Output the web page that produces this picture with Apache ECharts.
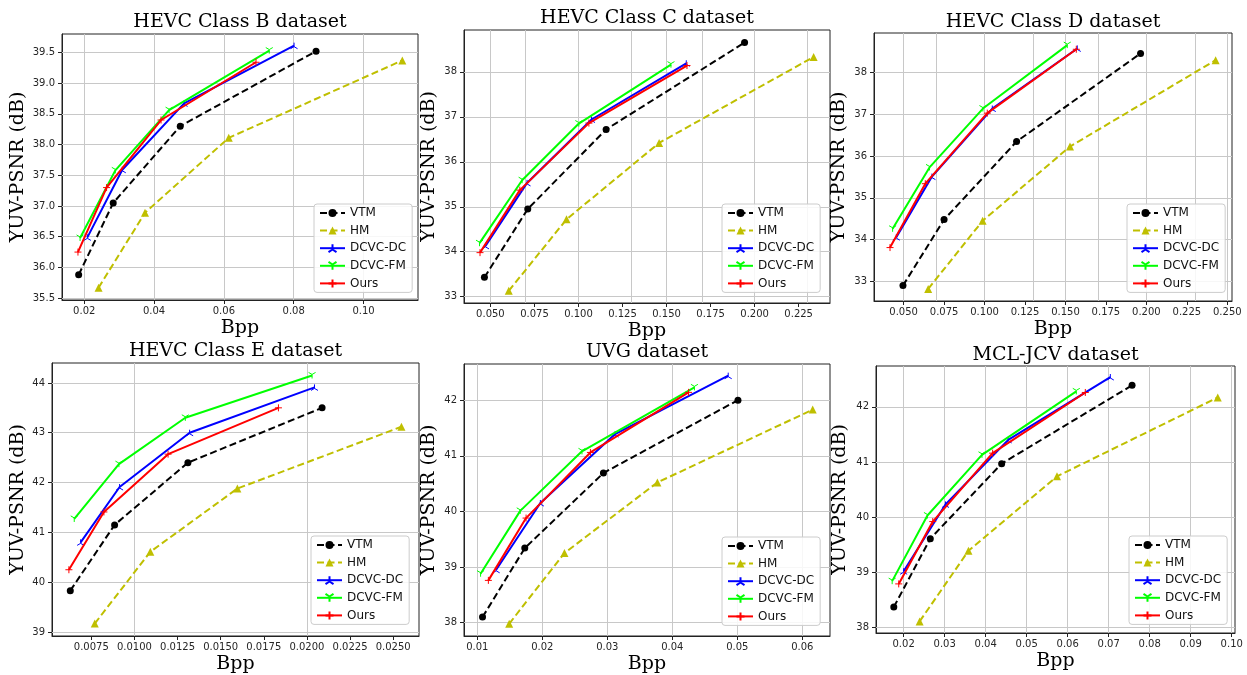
<!DOCTYPE html>
<html>
<head>
<meta charset="utf-8">
<title>RD curves</title>
<script src="https://cdn.jsdelivr.net/npm/echarts@6/dist/echarts.min.js"></script>
<style>
html, body { margin: 0; padding: 0; background: #fff; }
#main { width: 1247px; height: 675px; }
</style>
</head>
<body>
<div id="main"></div>
<script>
// values, each point is [bpp, psnr]
var methods = ['VTM', 'HM', 'DCVC-DC', 'DCVC-FM', 'Ours'];

var classB_VTM  = [[0.0184, 35.88], [0.0283, 37.05], [0.0475, 38.30], [0.0864, 39.52]];
var classB_HM   = [[0.0241, 35.67], [0.0374, 36.89], [0.0614, 38.11], [0.1111, 39.37]];
var classB_DC   = [[0.0209, 36.49], [0.0309, 37.59], [0.0486, 38.67], [0.0801, 39.61]];
var classB_FM   = [[0.0188, 36.48], [0.0289, 37.58], [0.0443, 38.56], [0.0730, 39.53]];
var classB_Ours = [[0.0182, 36.25], [0.0264, 37.30], [0.0420, 38.40], [0.0692, 39.34]];

var classC_VTM  = [[0.0466, 33.43], [0.0712, 34.95], [0.1157, 36.72], [0.1943, 38.65]];
var classC_HM   = [[0.0604, 33.13], [0.0932, 34.72], [0.1458, 36.42], [0.2335, 38.33]];
var classC_DC   = [[0.0472, 34.13], [0.0708, 35.53], [0.1074, 36.94], [0.1612, 38.19]];
var classC_FM   = [[0.0438, 34.19], [0.0680, 35.59], [0.1002, 36.85], [0.1525, 38.16]];
var classC_Ours = [[0.0441, 33.98], [0.0667, 35.37], [0.1059, 36.86], [0.1616, 38.14]];

var classD_VTM  = [[0.0496, 32.90], [0.0750, 34.48], [0.1198, 36.35], [0.1964, 38.46]];
var classD_HM   = [[0.0652, 32.82], [0.0988, 34.45], [0.1528, 36.23], [0.2428, 38.30]];
var classD_DC   = [[0.0455, 34.06], [0.0675, 35.51], [0.1048, 37.14], [0.1573, 38.58]];
var classD_FM   = [[0.0432, 34.26], [0.0660, 35.73], [0.0990, 37.14], [0.1511, 38.66]];
var classD_Ours = [[0.0416, 33.81], [0.0634, 35.34], [0.1017, 37.03], [0.1567, 38.56]];

var classE_VTM  = [[0.00628, 39.83], [0.00885, 41.15], [0.0131, 42.40], [0.02088, 43.50]];
var classE_HM   = [[0.0077, 39.17], [0.01092, 40.61], [0.01597, 41.88], [0.02548, 43.12]];
var classE_DC   = [[0.00688, 40.80], [0.00914, 41.91], [0.0132, 43.00], [0.02044, 43.91]];
var classE_FM   = [[0.00651, 41.27], [0.0091, 42.37], [0.01295, 43.30], [0.0203, 44.15]];
var classE_Ours = [[0.0062, 40.25], [0.00823, 41.41], [0.01195, 42.57], [0.01835, 43.50]];

var uvg_VTM  = [[0.0108, 38.10], [0.0173, 39.34], [0.0294, 40.69], [0.0501, 42.00]];
var uvg_HM   = [[0.0149, 37.98], [0.0234, 39.25], [0.0377, 40.52], [0.0616, 41.83]];
var uvg_DC   = [[0.0129, 38.95], [0.0197, 40.15], [0.0312, 41.39], [0.0486, 42.44]];
var uvg_FM   = [[0.0105, 38.88], [0.0166, 40.01], [0.0261, 41.08], [0.0434, 42.23]];
var uvg_Ours = [[0.0117, 38.76], [0.0175, 39.88], [0.0274, 41.06], [0.0425, 42.14]];

var mcl_VTM  = [[0.0176, 38.37], [0.0265, 39.61], [0.0439, 40.97], [0.0757, 42.39]];
var mcl_HM   = [[0.0239, 38.11], [0.0358, 39.39], [0.0574, 40.74], [0.0966, 42.17]];
var mcl_DC   = [[0.0200, 39.02], [0.0302, 40.23], [0.0455, 41.40], [0.0704, 42.54]];
var mcl_FM   = [[0.0172, 38.84], [0.0258, 40.03], [0.0391, 41.13], [0.0621, 42.28]];
var mcl_Ours = [[0.0188, 38.79], [0.0271, 39.92], [0.0417, 41.16], [0.0643, 42.26]];

// tick labels
var classB_xTicks = [0.02, 0.04, 0.06, 0.08, 0.10];
var classB_yTicks = [35.5, 36.0, 36.5, 37.0, 37.5, 38.0, 38.5, 39.0, 39.5];
var classC_xTicks = [0.050, 0.075, 0.100, 0.125, 0.150, 0.175, 0.200, 0.225];
var classC_yTicks = [33, 34, 35, 36, 37, 38];
var classD_xTicks = [0.050, 0.075, 0.100, 0.125, 0.150, 0.175, 0.200, 0.225, 0.250];
var classD_yTicks = [33, 34, 35, 36, 37, 38];
var classE_xTicks = [0.0075, 0.0100, 0.0125, 0.0150, 0.0175, 0.0200, 0.0225, 0.0250];
var classE_yTicks = [39, 40, 41, 42, 43, 44];
var uvg_xTicks = [0.01, 0.02, 0.03, 0.04, 0.05, 0.06];
var uvg_yTicks = [38, 39, 40, 41, 42];
var mcl_xTicks = [0.02, 0.03, 0.04, 0.05, 0.06, 0.07, 0.08, 0.09, 0.10];
var mcl_yTicks = [38, 39, 40, 41, 42];

// panel layout (pixels) and axis ranges
var panels = [
	{ title: 'HEVC Class B dataset', grid: [62, 34, 356, 266], x: [0.01363, 0.1156], y: [35.47, 39.80],
	  xTicks: classB_xTicks, yTicks: classB_yTicks, xDec: 2, yDec: 1, titleTop: 13, legend: [314, 204], yGap: 34,
	  data: [classB_VTM, classB_HM, classB_DC, classB_FM, classB_Ours] },
	{ title: 'HEVC Class C dataset', grid: [464, 30, 366, 273], x: [0.0350, 0.2428], y: [32.86, 38.93],
	  xTicks: classC_xTicks, yTicks: classC_yTicks, xDec: 3, yDec: 0, titleTop: 9, legend: [722, 204], yGap: 25,
	  data: [classC_VTM, classC_HM, classC_DC, classC_FM, classC_Ours] },
	{ title: 'HEVC Class D dataset', grid: [874, 33, 358, 268], x: [0.0317, 0.2529], y: [32.53, 38.95],
	  xTicks: classD_xTicks, yTicks: classD_yTicks, xDec: 3, yDec: 0, titleTop: 13, legend: [1127, 204], yGap: 25,
	  data: [classD_VTM, classD_HM, classD_DC, classD_FM, classD_Ours] },
	{ title: 'HEVC Class E dataset', grid: [52, 363, 367, 273], x: [0.00522, 0.0265], y: [38.92, 44.40],
	  xTicks: classE_xTicks, yTicks: classE_yTicks, xDec: 4, yDec: 0, titleTop: 342, legend: [311, 536], yGap: 24,
	  data: [classE_VTM, classE_HM, classE_DC, classE_FM, classE_Ours] },
	{ title: 'UVG dataset', grid: [464, 364, 366, 272], x: [0.00795, 0.06426], y: [37.76, 42.65],
	  xTicks: uvg_xTicks, yTicks: uvg_yTicks, xDec: 2, yDec: 0, titleTop: 343, legend: [722, 537], yGap: 25,
	  data: [uvg_VTM, uvg_HM, uvg_DC, uvg_FM, uvg_Ours] },
	{ title: 'MCL-JCV dataset', grid: [876, 366, 359, 267], x: [0.01326, 0.1008], y: [37.90, 42.74],
	  xTicks: mcl_xTicks, yTicks: mcl_yTicks, xDec: 2, yDec: 0, titleTop: 346, legend: [1129, 536], yGap: 26,
	  data: [mcl_VTM, mcl_HM, mcl_DC, mcl_FM, mcl_Ours] }
];

// matplotlib-like markers: tri_up, tri_down, plus
var triUp = 'path://M0,0 L0,-10 M0,0 L-8.66,5 M0,0 L8.66,5';
var triDown = 'path://M0,0 L0,10 M0,0 L-8.66,-5 M0,0 L8.66,-5';
var plus = 'path://M0,-5 L0,5 M-5,0 L5,0';

var methodStyle = [
	{ color: '#000000', dash: [7, 3.5], symbol: 'circle', size: 7, border: 0 },
	{ color: '#bfbf00', dash: [7, 3.5], symbol: 'triangle', size: 8, border: 0 },
	{ color: '#0000ff', dash: 'solid', symbol: triUp, size: 7, border: 1 },
	{ color: '#00ff00', dash: 'solid', symbol: triDown, size: 7, border: 1 },
	{ color: '#ff0000', dash: 'solid', symbol: plus, size: 7, border: 1 }
];

var tickColor = '#262626';
var gridLineColor = '#c8c8c8';
var option = {
	backgroundColor: '#ffffff',
	animation: false,
	title: [], grid: [], xAxis: [], yAxis: [], legend: [], series: []
};

function fixed(d) {
	return function (v) { return v.toFixed(d); };
}

panels.forEach(function (p, i) {
	var g = p.grid;
	option.title.push({
		text: p.title, left: g[0] + g[2] / 2, top: p.titleTop, textAlign: 'center', padding: 0,
		textStyle: { fontFamily: 'DejaVu Serif', fontSize: 19, fontWeight: 'normal', color: '#000' }
	});
	option.grid.push({
		left: g[0], top: g[1], width: g[2], height: g[3],
		show: true, borderColor: '#222', borderWidth: 1, backgroundColor: 'transparent'
	});
	option.xAxis.push({
		gridIndex: i, type: 'value', min: p.x[0], max: p.x[1], position: 'bottom',
		name: 'Bpp', nameLocation: 'middle', nameGap: 19,
		nameTextStyle: { fontFamily: 'DejaVu Serif', fontSize: 19, color: '#000' },
		axisLine: { show: true, lineStyle: { color: '#222', width: 1 } },
		axisTick: { show: true, inside: false, length: 4, lineStyle: { color: '#222' }, customValues: p.xTicks },
		axisLabel: { customValues: p.xTicks, margin: 6, fontFamily: 'DejaVu Sans', fontSize: 10, color: tickColor, formatter: fixed(p.xDec) },
		splitLine: { show: false }
	});
	option.yAxis.push({
		gridIndex: i, type: 'value', min: p.y[0], max: p.y[1], position: 'left',
		name: 'YUV-PSNR (dB)', nameLocation: 'middle', nameGap: p.yGap,
		nameTextStyle: { fontFamily: 'DejaVu Serif', fontSize: 19, color: '#000' },
		axisLine: { show: true, lineStyle: { color: '#222', width: 1 } },
		axisTick: { show: true, inside: false, length: 4, lineStyle: { color: '#222' }, customValues: p.yTicks },
		axisLabel: { customValues: p.yTicks, margin: 7, fontFamily: 'DejaVu Sans', fontSize: 10, color: tickColor, formatter: fixed(p.yDec) },
		splitLine: { show: false }
	});
	option.legend.push({
		data: methods, orient: 'vertical', left: p.legend[0], top: p.legend[1],
		itemWidth: 25, itemHeight: 10, itemGap: 5.6, itemTextGap: 10,
		padding: [3, 6, 3, 5], borderColor: '#cccccc', borderWidth: 1, borderRadius: 3,
		backgroundColor: 'rgba(255,255,255,0.85)',
		textStyle: { fontFamily: 'DejaVu Sans', fontSize: 12, color: '#111' }
	});
	// grid lines at the tick values, drawn under the curves
	var gridLines = p.xTicks.map(function (v) { return { xAxis: v }; })
		.concat(p.yTicks.map(function (v) { return { yAxis: v }; }));
	option.series.push({
		type: 'line', xAxisIndex: i, yAxisIndex: i, data: [], silent: true, z: 1,
		markLine: {
			silent: true, z: 1, symbol: ['none', 'none'], label: { show: false },
			lineStyle: { color: gridLineColor, width: 1, type: 'solid' },
			emphasis: { disabled: true },
			data: gridLines
		}
	});
	methods.forEach(function (m, k) {
		var s = methodStyle[k];
		option.series.push({
			name: m, type: 'line', xAxisIndex: i, yAxisIndex: i,
			data: p.data[k],
			symbol: s.symbol, symbolSize: s.size, symbolKeepAspect: true, showSymbol: true,
			lineStyle: { color: s.color, width: 2, type: s.dash },
			itemStyle: { color: s.color, borderColor: s.color, borderWidth: s.border },
			z: 2 + k
		});
	});
});

var myChart = echarts.init(document.getElementById('main'));
myChart.setOption(option);
</script>
</body>
</html>
